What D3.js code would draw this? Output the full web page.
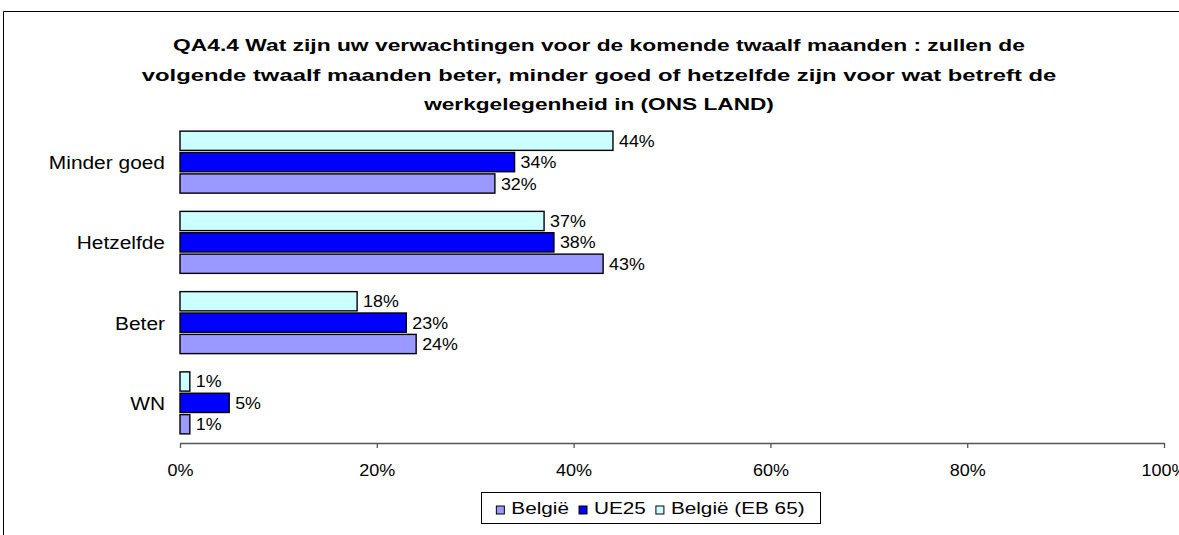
<!DOCTYPE html>
<html>
<head>
<meta charset="utf-8">
<script src="https://cdn.jsdelivr.net/npm/d3@7"></script>
<style>
  body { margin: 0; background: #fff; }
  text { font-family: "Liberation Sans", Arial, sans-serif; }
</style>
</head>
<body>
<div id="chart"></div>
<script>
//Chart data
var titleLines = ["QA4.4 Wat zijn uw verwachtingen voor de komende twaalf maanden : zullen de",
                  "volgende twaalf maanden beter, minder goed of hetzelfde zijn voor wat betreft de",
                  "werkgelegenheid in (ONS LAND)"];
var categories = ["Minder goed", "Hetzelfde", "Beter", "WN"];
var seriesNames = ["België", "UE25", "België (EB 65)"];
var belgie = [0.32, 0.43, 0.24, 0.01];
var ue25 = [0.34, 0.38, 0.23, 0.05];
var belgieEB65 = [0.44, 0.37, 0.18, 0.01];
var xTicks = [0, 0.2, 0.4, 0.6, 0.8, 1];
var seriesColors = ["#9999FF", "#0000FF", "#CCFFFF"];

var width = 1179, height = 535;
var plot = {left: 180, right: 1164, top: 122, bottom: 443};

var svg = d3.select("#chart").append("svg")
            .attr("width", width)
            .attr("height", height);
svg.append("rect").attr("width", width).attr("height", height).attr("fill", "#fff");

//Outer chart frame (left and top edges visible)
svg.append("path")
   .attr("d", "M3.5," + height + "V11.5H" + width)
   .attr("fill", "none")
   .attr("stroke", "#000")
   .attr("stroke-width", 1);

//Title, each line stretched to the width it takes in the original export
var titleY = [51, 81, 110];
var titleW = [852, 915, 350];
svg.append("g").selectAll("text")
   .data(titleLines)
   .enter()
   .append("text")
   .attr("text-anchor", "middle")
   .attr("font-weight", "bold")
   .attr("font-size", "17px")
   .text(function(d){ return d; })
   .attr("transform", function(d, i){
     var sx = titleW[i] / this.getComputedTextLength();
     return "translate(599," + titleY[i] + ") scale(" + sx + ",1)";
   });

//Scales
var x = d3.scaleLinear().domain([0, 1]).range([plot.left, plot.right]);
var y = d3.scaleBand().domain(categories)
          .range([plot.top, plot.bottom])
          .paddingInner(0.2274)
          .paddingOuter(0.1137);
//Within each category: EB 65 at top, then UE25, then België
var drawOrder = [2, 1, 0];
var ySub = d3.scaleBand().domain(drawOrder)
             .range([0, y.bandwidth()])
             .paddingInner(0.1);

var seriesValues = [belgie, ue25, belgieEB65];
var rows = [];
categories.forEach(function(c, ci){
  drawOrder.forEach(function(s){
    rows.push({cat: c, s: s, v: seriesValues[s][ci]});
  });
});

//Bars
svg.append("g").selectAll("rect")
   .data(rows)
   .enter()
   .append("rect")
   .attr("x", x(0))
   .attr("y", function(d){ return y(d.cat) + ySub(d.s); })
   .attr("width", function(d){ return x(d.v) - x(0); })
   .attr("height", ySub.bandwidth())
   .attr("fill", function(d){ return seriesColors[d.s]; })
   .attr("stroke", "#000")
   .attr("stroke-width", 1.4);

//Value labels
svg.append("g").selectAll("text")
   .data(rows)
   .enter()
   .append("text")
   .attr("transform", function(d){
     return "translate(" + (x(d.v) + 6) + "," + (y(d.cat) + ySub(d.s) + ySub.bandwidth() / 2 + 6) +
            ") scale(1.05,1)";
   })
   .attr("font-size", "17px")
   .attr("fill", "#000")
   .text(function(d){ return Math.round(d.v * 100) + "%"; });

//Category labels
svg.append("g").selectAll("text")
   .data(categories)
   .enter()
   .append("text")
   .attr("transform", function(d){
     return "translate(165," + (y(d) + y.bandwidth() / 2 + 7) + ") scale(1.1,1)";
   })
   .attr("text-anchor", "end")
   .attr("font-size", "19px")
   .text(function(d){ return d; });

//X axis
var xAxis = d3.axisBottom(x)
              .tickValues(xTicks)
              .tickSize(5)
              .tickSizeOuter(0)
              .tickFormat(d3.format(".0%"));
var axisG = svg.append("g")
               .attr("transform", "translate(0," + plot.bottom + ")")
               .call(xAxis);
axisG.select(".domain").attr("stroke", "#555").attr("stroke-width", 1.3);
axisG.selectAll(".tick line").attr("stroke", "#555").attr("stroke-width", 1.3);
axisG.selectAll(".tick text")
     .attr("font-family", "Liberation Sans, Arial, sans-serif")
     .attr("font-size", "17px")
     .attr("fill", "#000")
     .attr("y", 0)
     .attr("dy", 0)
     .attr("transform", "translate(0,33) scale(1.06,1)");

//Legend
var legendBox = {x: 481, y: 492, w: 339, h: 31};
var legendG = svg.append("g");
legendG.append("rect")
       .attr("x", legendBox.x + 0.5)
       .attr("y", legendBox.y + 0.5)
       .attr("width", legendBox.w)
       .attr("height", legendBox.h)
       .attr("fill", "#fff")
       .attr("stroke", "#000")
       .attr("stroke-width", 1);
var itemsG = legendG.append("g");
var cursor = 0;
var legendScale = 1.22;
seriesNames.forEach(function(name, i){
  itemsG.append("rect")
        .attr("x", cursor)
        .attr("y", -8)
        .attr("width", 8)
        .attr("height", 8)
        .attr("fill", seriesColors[i])
        .attr("stroke", "#000")
        .attr("stroke-width", 1);
  var t = itemsG.append("text")
        .attr("font-size", "17px")
        .text(name);
  var tw = t.node().getComputedTextLength() * legendScale;
  t.attr("transform", "translate(" + (cursor + 15) + ",0) scale(" + legendScale + ",1)");
  cursor += 15 + tw + 10;
});
var itemsW = cursor - 10;
itemsG.attr("transform", "translate(" + (legendBox.x + (legendBox.w - itemsW) / 2) + "," +
            (legendBox.y + 22) + ")");
</script>
</body>
</html>
